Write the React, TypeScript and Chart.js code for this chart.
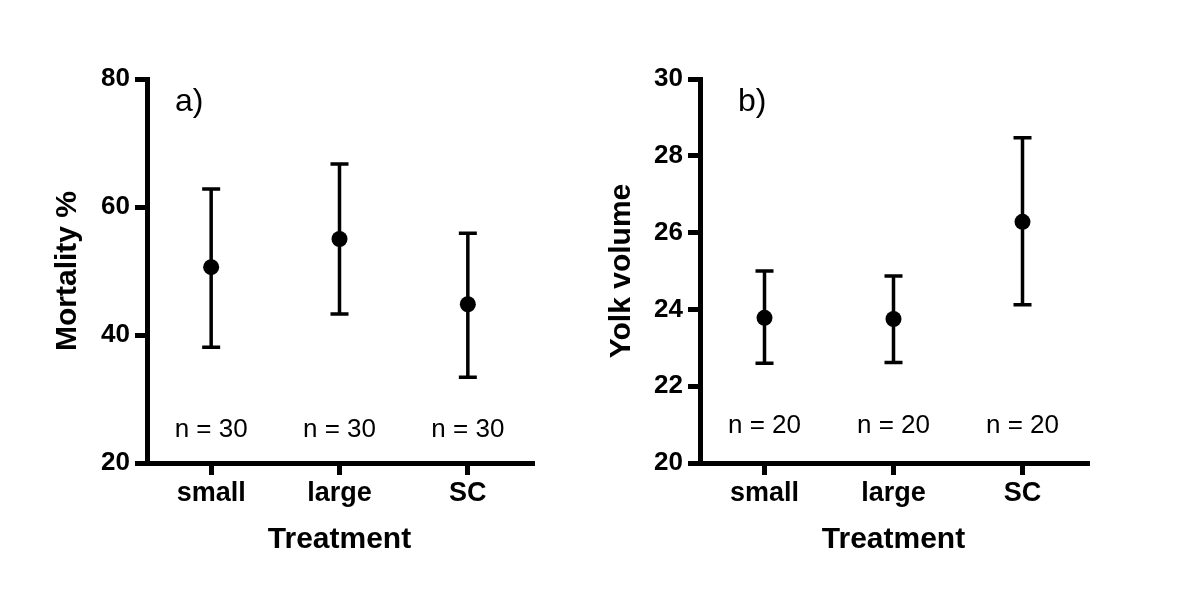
import React, { useEffect, useRef } from "react";
import { Chart, registerables } from "chart.js";

Chart.register(...registerables);

const categories = ["small", "large", "SC"];

const mortalityMean = [50.6, 55.0, 44.8];
const mortalityLow = [38.1, 43.3, 33.4];
const mortalityHigh = [62.8, 66.7, 55.9];
const mortalityN = ["n = 30", "n = 30", "n = 30"];
const mortalityTicks = { min: 20, max: 80, step: 20 };

const yolkMean = [23.78, 23.75, 26.28];
const yolkLow = [22.6, 22.62, 24.12];
const yolkHigh = [25.0, 24.87, 28.47];
const yolkN = ["n = 20", "n = 20", "n = 20"];
const yolkTicks = { min: 20, max: 30, step: 2 };

const FONT = "'Liberation Sans', Arial, Helvetica, sans-serif";

type PanelCfg = {
  means: number[];
  low: number[];
  high: number[];
  nLabels: string[];
  yTitle: string;
  panelLabel: string;
  ticks: { min: number; max: number; step: number };
  left: number;
  right: number;
  yTitlePad: number;
  panelLabelDx: number;
  nDy: number;
};

const W = 600;
const H = 611;
const TOP = 79;
const BOTTOM = 463;

function makeChart(canvas: HTMLCanvasElement, cfg: PanelCfg) {
  const overlay = {
    id: "errorBarsAndText",
    beforeDatasetsDraw(chart: any) {
      const ctx = chart.ctx;
      const xs = chart.scales.x;
      const ys = chart.scales.y;
      ctx.save();
      ctx.strokeStyle = "#000";
      ctx.lineWidth = 3.5;
      ctx.lineCap = "butt";
      for (let i = 0; i < cfg.means.length; i++) {
        const x = xs.getPixelForValue(i);
        const yl = ys.getPixelForValue(cfg.low[i]);
        const yh = ys.getPixelForValue(cfg.high[i]);
        ctx.beginPath();
        ctx.moveTo(x, yl);
        ctx.lineTo(x, yh);
        ctx.moveTo(x - 9, yl);
        ctx.lineTo(x + 9, yl);
        ctx.moveTo(x - 9, yh);
        ctx.lineTo(x + 9, yh);
        ctx.stroke();
      }
      ctx.restore();
    },
    afterDraw(chart: any) {
      const ctx = chart.ctx;
      const xs = chart.scales.x;
      const area = chart.chartArea;
      ctx.save();
      ctx.fillStyle = "#000";
      ctx.textAlign = "center";
      ctx.textBaseline = "alphabetic";
      ctx.font = `26px ${FONT}`;
      for (let i = 0; i < cfg.nLabels.length; i++) {
        ctx.fillText(cfg.nLabels[i], xs.getPixelForValue(i), area.bottom - cfg.nDy);
      }
      ctx.textAlign = "left";
      ctx.font = `32px ${FONT}`;
      ctx.fillText(cfg.panelLabel, area.left + cfg.panelLabelDx, 111);
      ctx.restore();
    },
  };

  return new Chart(canvas, {
    type: "line",
    data: {
      labels: categories,
      datasets: [
        {
          data: cfg.means,
          showLine: false,
          pointRadius: 8,
          pointHoverRadius: 8,
          pointBackgroundColor: "#000",
          pointBorderColor: "#000",
          pointBorderWidth: 0,
        },
      ],
    },
    options: {
      animation: false,
      responsive: false,
      devicePixelRatio: 1,
      events: [],
      plugins: { legend: { display: false }, tooltip: { enabled: false } },
      layout: { padding: { left: 0, top: TOP, right: W - cfg.right, bottom: 0 } },
      scales: {
        x: {
          type: "category",
          offset: true,
          grid: {
            display: true,
            drawOnChartArea: false,
            drawTicks: true,
            tickLength: 12,
            lineWidth: 5,
            color: "#000",
          },
          border: { display: true, width: 5, color: "#000" },
          ticks: {
            color: "#000",
            font: { family: FONT, size: 27, weight: "bold" },
            padding: 2,
            maxRotation: 0,
          },
          title: {
            display: true,
            text: "Treatment",
            color: "#000",
            font: { family: FONT, size: 30, weight: "bold" },
            padding: { top: 0, bottom: 53 },
          },
          afterFit: (s: any) => {
            s.height = H - BOTTOM;
          },
        },
        y: {
          type: "linear",
          min: cfg.ticks.min,
          max: cfg.ticks.max,
          grid: {
            display: true,
            drawOnChartArea: false,
            drawTicks: true,
            tickLength: 12,
            lineWidth: 5,
            color: "#000",
          },
          border: { display: true, width: 5, color: "#000" },
          ticks: {
            stepSize: cfg.ticks.step,
            color: "#000",
            font: { family: FONT, size: 26, weight: "bold" },
            padding: 5,
          },
          title: {
            display: true,
            text: cfg.yTitle,
            color: "#000",
            font: { family: FONT, size: 30, weight: "bold" },
            padding: { top: cfg.yTitlePad, bottom: 0 },
          },
          afterFit: (s: any) => {
            s.width = cfg.left;
          },
        },
      },
    },
    plugins: [overlay],
  } as any);
}

function Panel({ cfg, offsetX }: { cfg: PanelCfg; offsetX: number }) {
  const ref = useRef<HTMLCanvasElement | null>(null);
  useEffect(() => {
    if (!ref.current) return;
    const chart = makeChart(ref.current, cfg);
    return () => chart.destroy();
  }, []);
  return (
    <canvas
      ref={ref}
      width={W}
      height={H}
      style={{ position: "absolute", left: offsetX, top: 0, width: W, height: H }}
    />
  );
}

const leftCfg: PanelCfg = {
  means: mortalityMean,
  low: mortalityLow,
  high: mortalityHigh,
  nLabels: mortalityN,
  yTitle: "Mortality %",
  panelLabel: "a)",
  ticks: mortalityTicks,
  left: 147,
  right: 532,
  yTitlePad: 50,
  panelLabelDx: 28,
  nDy: 26,
};

const rightCfg: PanelCfg = {
  means: yolkMean,
  low: yolkLow,
  high: yolkHigh,
  nLabels: yolkN,
  yTitle: "Yolk volume",
  panelLabel: "b)",
  ticks: yolkTicks,
  left: 100,
  right: 487,
  yTitlePad: 4,
  panelLabelDx: 38,
  nDy: 30,
};

export default function App() {
  return (
    <div
      style={{
        position: "absolute",
        left: 0,
        top: 0,
        width: 1200,
        height: 611,
        background: "#fff",
        overflow: "hidden",
      }}
    >
      <Panel cfg={leftCfg} offsetX={0} />
      <Panel cfg={rightCfg} offsetX={600} />
    </div>
  );
}
